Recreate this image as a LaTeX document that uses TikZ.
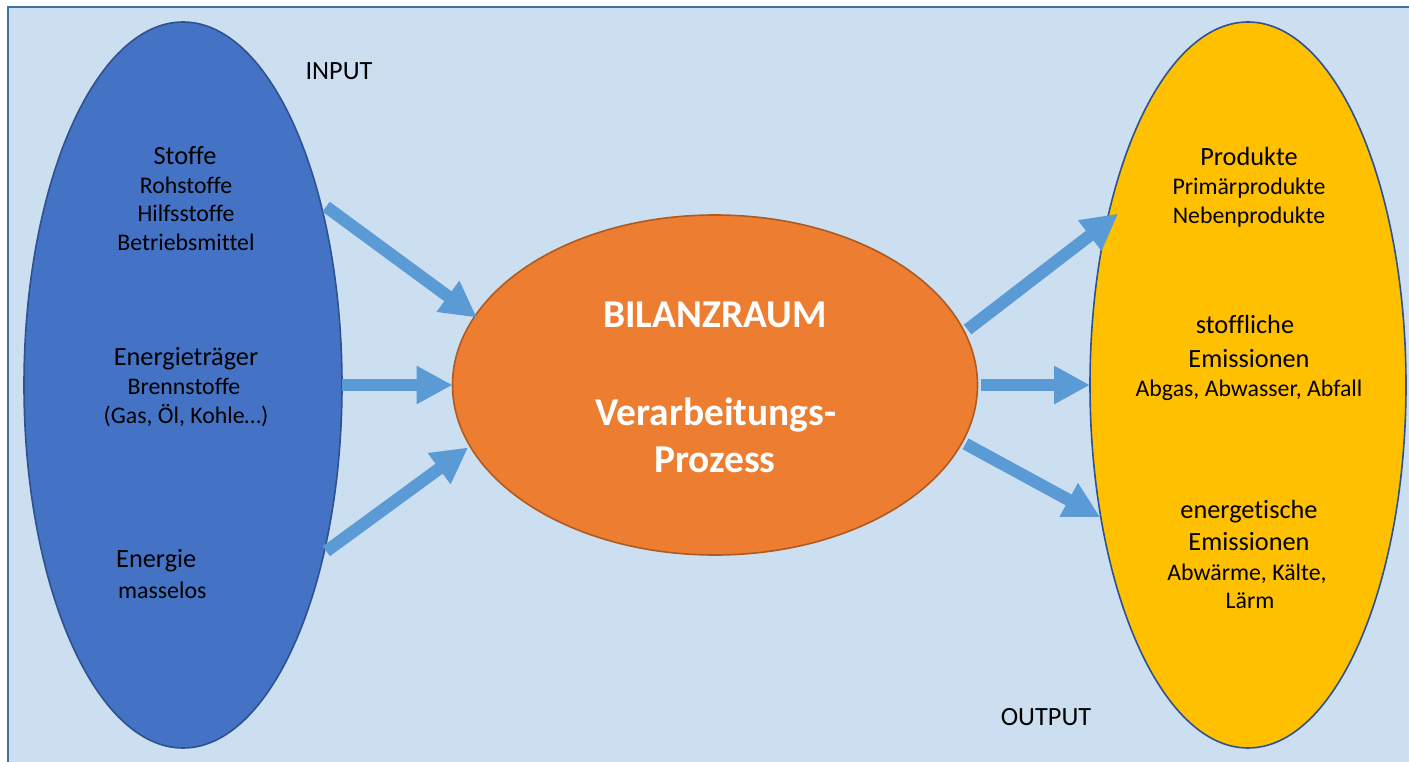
\documentclass[tikz,border=0pt]{standalone}
\usepackage{fontspec}
\setmainfont{Carlito}[Ligatures=NoCommon]
\usetikzlibrary{shapes.geometric,arrows.meta}
\definecolor{bgblue}{HTML}{CCDFF1}
\definecolor{frameblue}{HTML}{41719C}
\definecolor{inblue}{HTML}{4472C4}
\definecolor{inedge}{HTML}{2F528F}
\definecolor{procor}{HTML}{ED7D31}
\definecolor{procedge}{HTML}{AE5A21}
\definecolor{outyel}{HTML}{FFC000}
\definecolor{arrblue}{HTML}{5B9BD5}
\newcommand\Lfnt{\fontsize{26.3pt}{31pt}\selectfont}
\newcommand\Sfnt{\fontsize{23.8pt}{29pt}\selectfont}
\newcommand\Bfnt{\fontsize{39.4pt}{47pt}\selectfont\bfseries}
\begin{document}
\begin{tikzpicture}[x=1pt,y=-1pt,
  blob/.style={ellipse, inner sep=0pt, outer sep=0pt, line width=1.6pt},
  flow/.style={line width=12.3pt, arrblue, -{Triangle[length=36pt,width=36pt]}},
  big/.style={anchor=base, font=\Lfnt, text=black, inner sep=0pt},
  small/.style={anchor=base, font=\Sfnt, text=black, inner sep=0pt},
  head/.style={anchor=base, font=\Bfnt, text=white, inner sep=0pt}]
\useasboundingbox (0,0) rectangle (1409,762);
\path[fill=bgblue, draw=frameblue, line width=2pt] (8,7) rectangle (1430,780);

% ellipses
\node[blob, fill=inblue, draw=inedge, minimum width=318pt, minimum height=726pt] (L) at (183,385) {};
\node[blob, fill=procor, draw=procedge, minimum width=525pt, minimum height=340pt] (C) at (715,385) {};
\node[blob, fill=outyel, draw=inedge, minimum width=316pt, minimum height=726pt] (R) at (1248,385) {};

% arrows
\draw[flow, shorten <=7pt, shorten >=-2.4pt] (L.53.3) -- (C.164.2);
\draw[flow] (L.0) -- (C.180);
\draw[flow, shorten <=3pt, shorten >=2.3pt] (L.-50.7) -- (C.-166.65);
\draw[flow, shorten <=4pt, shorten >=-14.5pt] (C.12.5) -- (R.131.5);
\draw[flow, shorten <=3.5pt] (C.0) -- (R.180);
\draw[flow, shorten <=3.7pt, shorten >=0.7pt] (C.-13) -- (R.222.9);

% labels
\node[big] (tin) at (339,80) {INPUT};
\node[big] (tout) at (1046,725) {OUTPUT};

\node[big] (t1) at (185,165) {Stoffe};
\node[small] (t2) at (186,194) {Rohstoffe};
\node[small] (t3) at (186,222) {Hilfsstoffe};
\node[small] (t4) at (186,251) {Betriebsmittel};

\node[big] (t5) at (186,365) {Energieträger};
\node[small] (t6) at (184,394) {Brennstoffe};
\node[small] (t7) at (186,423) {(Gas, Öl, Kohle…)};

\node[big, anchor=base west] (t8) at (116,567) {Energie};
\node[small, anchor=base west] (t9) at (118,598) {masselos};

\node[head] (c1) at (715,327) {BILANZRAUM};
\node[head] (c2) at (716,425) {Verarbeitungs-};
\node[head] (c3) at (715,472) {Prozess};

\node[big] (r1) at (1249,166) {Produkte};
\node[small] (r2) at (1249,195) {Primärprodukte};
\node[small] (r3) at (1249,224) {Nebenprodukte};

\node[big] (r4) at (1245,334) {stoffliche};
\node[big] (r5) at (1249,367) {Emissionen};
\node[small] (r6) at (1249,396) {Abgas, Abwasser, Abfall};

\node[big] (r7) at (1249,518) {energetische};
\node[big] (r8) at (1249,550) {Emissionen};
\node[small] (r9) at (1247,580) {Abwärme, Kälte,};
\node[small] (r10) at (1250,608) {Lärm};
\end{tikzpicture}
\end{document}
